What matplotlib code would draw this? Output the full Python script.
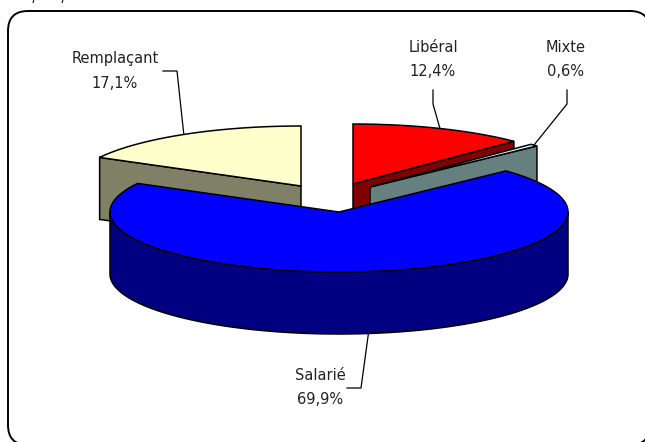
import numpy as np
import matplotlib
matplotlib.use("Agg")
import matplotlib.pyplot as plt
from matplotlib.patches import FancyBboxPatch, Polygon

labels = ["Libéral", "Mixte", "Salarié", "Remplaçant"]
pct_text = ["12,4%", "0,6%", "69,9%", "17,1%"]
values = [12.4, 0.6, 69.9, 17.1]
top_colors = ["#FF0000", "#CCFFFF", "#0000FF", "#FFFFCC"]
side_colors = ["#800000", "#668080", "#000080", "#808066"]
apex_x = [353, 370, 339, 301]
apex_y = [184, 187, 212, 186]
label_xy = [(433, 59.5), (566, 59.5), (320, 387.5), (115, 70.5)]
knee = [[(433, 90), (433, 104)], [(567, 90), (567, 104)], [(347, 388), (361, 388)], [(163, 71), (177, 71)]]
RX, RY, DEPTH = 229, 60, 62
FONT = ["DejaVu Sans"]

fig = plt.figure(figsize=(6.45, 4.42), dpi=100)
ax = fig.add_axes([0, 0, 1, 1])
ax.set_xlim(0, 645)
ax.set_ylim(442, 0)
ax.axis("off")

ax.add_patch(FancyBboxPatch((8, 11), 642, 434, boxstyle="round,pad=0,rounding_size=20",
                            fc="white", ec="black", lw=1.4, zorder=0))
ax.text(5, 0.2, "Graphique 7 : Mode d'exercice en 2005", style="italic", fontsize=11,
        family=FONT, color="#333333", va="baseline", ha="left", zorder=1)


def pt(cx, cy, deg, dz=0):
    a = np.radians(deg)
    return cx + RX * np.cos(a), cy - RY * np.sin(a) + dz


def arc(cx, cy, a0, a1, dz=0):
    t = np.linspace(a0, a1, 200)
    return np.column_stack(pt(cx, cy, t, dz))


# clockwise from 12 o'clock
edges = 90 - np.cumsum([0] + values) * 3.6
z = 2
for i in [3, 0, 1, 2]:
    start, end = edges[i], edges[i + 1]  # start > end
    cx, cy = apex_x[i], apex_y[i]
    mid = (start + end) / 2
    # flat cut wall on the side of the slice that faces the viewer
    if np.sin(np.radians(mid)) > 0:
        p = pt(cx, cy, end if np.cos(np.radians(mid)) > 0 else start)
        wall = [(cx, cy), p, (p[0], p[1] + DEPTH), (cx, cy + DEPTH)]
        ax.add_patch(Polygon(wall, closed=True, fc=side_colors[i], ec="black", lw=1.1, zorder=z))
        z += 1
    # front rim
    a0, a1 = max(end, -180), min(start, 0)
    if a1 > a0:
        rim = np.vstack([arc(cx, cy, a0, a1), arc(cx, cy, a1, a0, DEPTH)])
        ax.add_patch(Polygon(rim, closed=True, fc=side_colors[i], ec="black", lw=1.1, zorder=z))
        z += 1
    top = np.vstack([[(cx, cy)], arc(cx, cy, start, end)])
    ax.add_patch(Polygon(top, closed=True, fc=top_colors[i], ec="black", lw=1.1, zorder=z))
    z += 1

for i in range(4):
    mid = (edges[i] + edges[i + 1]) / 2
    dz = DEPTH if np.sin(np.radians(mid)) < 0 else 0
    end_pt = pt(apex_x[i], apex_y[i], mid, dz)
    path = knee[i] + [end_pt]
    ax.plot(*zip(*path), color="black", lw=0.9, zorder=50, solid_joinstyle="miter")
    x, y = label_xy[i]
    ax.text(x, y - 12, labels[i], ha="center", va="center", fontsize=10.5, family=FONT,
            color="#222222", zorder=60)
    ax.text(x, y + 12.5, pct_text[i], ha="center", va="center", fontsize=10.5, family=FONT,
            color="#222222", zorder=60)

fig.savefig("out.png", dpi=100)
